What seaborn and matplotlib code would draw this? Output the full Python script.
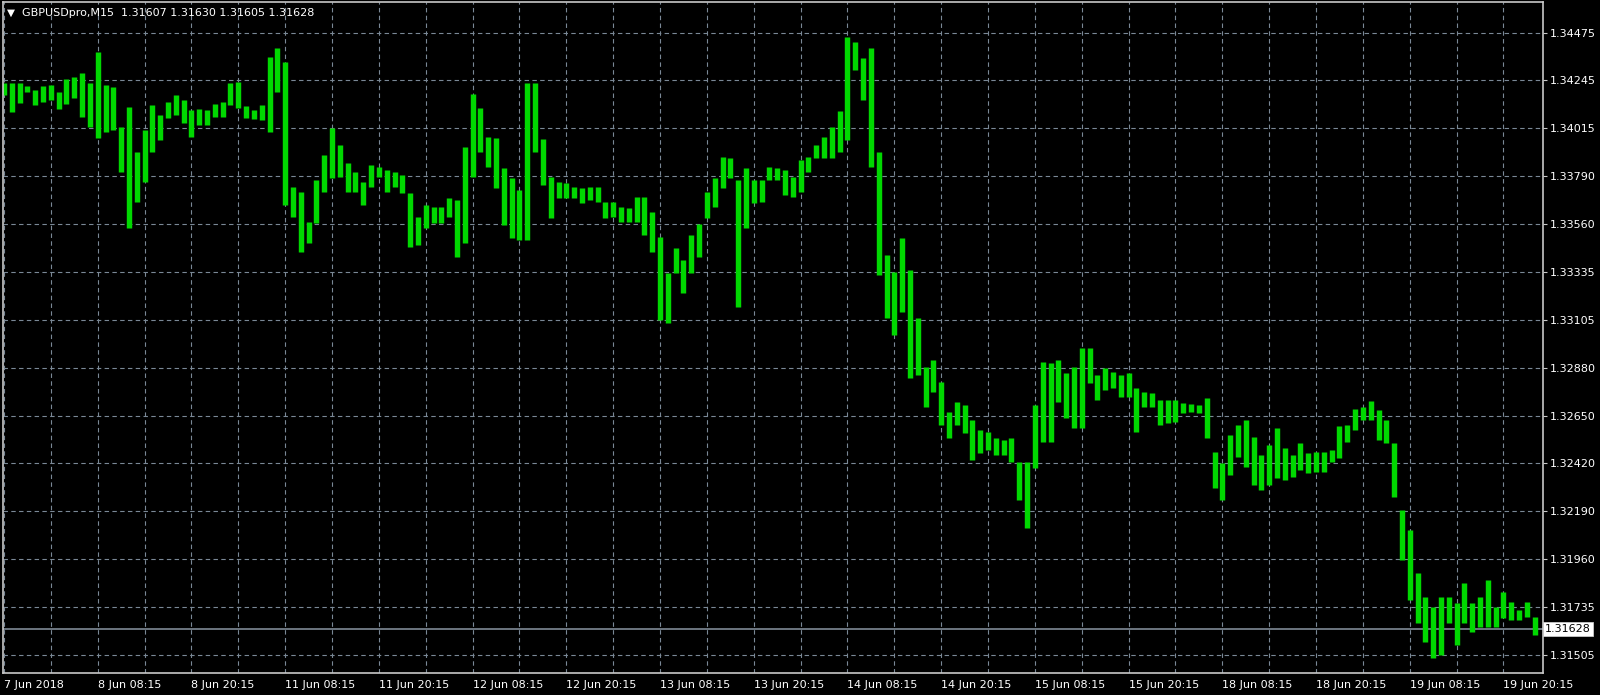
import matplotlib
matplotlib.use("Agg")
import matplotlib.pyplot as plt
import matplotlib.transforms as mtransforms
import seaborn as sns
import numpy as np
import pandas as pd

# DATA (hourly ranges, GBPUSD 7-19 Jun 2018)
high = [
    1.34235, 1.34235, 1.34235, 1.34221, 1.34201, 1.34221, 1.34225, 1.34192, 1.34254, 1.34263,
    1.34283, 1.34235, 1.34383, 1.34225, 1.34216, 1.34025, 1.34120, 1.33905, 1.34011, 1.34130,
    1.34082, 1.34144, 1.34178, 1.34154, 1.34106, 1.34111, 1.34106, 1.34135, 1.34144, 1.34235,
    1.34240, 1.34125, 1.34106, 1.34130, 1.34359, 1.34402, 1.34335, 1.33738, 1.33715, 1.33571,
    1.33772, 1.33891, 1.34020, 1.33939, 1.33853, 1.33810, 1.33762, 1.33843, 1.33834, 1.33820,
    1.33810, 1.33796, 1.33710, 1.33595, 1.33653, 1.33643, 1.33643, 1.33686, 1.33676, 1.33929,
    1.34182, 1.34116, 1.33977, 1.33972, 1.33829, 1.33781, 1.33724, 1.34235, 1.34235, 1.33968,
    1.33786, 1.33762, 1.33757, 1.33738, 1.33734, 1.33738, 1.33738, 1.33667, 1.33667, 1.33643,
    1.33638, 1.33691, 1.33691, 1.33619, 1.33500, 1.33328, 1.33447, 1.33390, 1.33509, 1.33562,
    1.33715, 1.33781, 1.33882, 1.33877, 1.33772, 1.33829, 1.33772, 1.33772, 1.33834, 1.33829,
    1.33820, 1.33786, 1.33867, 1.33882, 1.33939, 1.33977, 1.34025, 1.34101, 1.34454, 1.34431,
    1.34354, 1.34402, 1.33905, 1.33414, 1.33333, 1.33495, 1.33342, 1.33113, 1.32879, 1.32913,
    1.32808, 1.32665, 1.32712, 1.32698, 1.32626, 1.32579, 1.32569, 1.32540, 1.32531, 1.32540,
    1.32426, 1.32426, 1.32698, 1.32903, 1.32898, 1.32913, 1.32851, 1.32879, 1.32970, 1.32970,
    1.32841, 1.32875, 1.32855, 1.32841, 1.32851, 1.32779, 1.32760, 1.32755, 1.32722, 1.32722,
    1.32722, 1.32708, 1.32703, 1.32698, 1.32731, 1.32474, 1.32421, 1.32555, 1.32603, 1.32626,
    1.32545, 1.32459, 1.32507, 1.32588, 1.32493, 1.32459, 1.32517, 1.32469, 1.32474, 1.32474,
    1.32483, 1.32598, 1.32603, 1.32679, 1.32688, 1.32717, 1.32674, 1.32626, 1.32517, 1.32197,
    1.32101, 1.31896, 1.31782, 1.31734, 1.31782, 1.31782, 1.31753, 1.31848, 1.31753, 1.31782,
    1.31863, 1.31734, 1.31805, 1.31758, 1.31720, 1.31758, 1.31686,
]
low = [
    1.34178, 1.34096, 1.34139, 1.34192, 1.34130, 1.34144, 1.34154, 1.34111, 1.34135, 1.34163,
    1.34073, 1.34025, 1.33972, 1.34001, 1.34011, 1.33810, 1.33543, 1.33667, 1.33762, 1.33905,
    1.33963, 1.34068, 1.34082, 1.34044, 1.33977, 1.34034, 1.34034, 1.34073, 1.34073, 1.34130,
    1.34116, 1.34068, 1.34063, 1.34058, 1.34001, 1.34192, 1.33653, 1.33595, 1.33428, 1.33471,
    1.33567, 1.33715, 1.33781, 1.33786, 1.33715, 1.33715, 1.33653, 1.33738, 1.33786, 1.33715,
    1.33738, 1.33710, 1.33452, 1.33462, 1.33543, 1.33567, 1.33567, 1.33595, 1.33404, 1.33471,
    1.33786, 1.33905, 1.33834, 1.33734, 1.33557, 1.33495, 1.33485, 1.33485, 1.33905, 1.33748,
    1.33591, 1.33686, 1.33686, 1.33686, 1.33662, 1.33676, 1.33667, 1.33591, 1.33595, 1.33571,
    1.33571, 1.33571, 1.33509, 1.33428, 1.33104, 1.33089, 1.33328, 1.33232, 1.33328, 1.33404,
    1.33591, 1.33643, 1.33734, 1.33781, 1.33166, 1.33543, 1.33662, 1.33667, 1.33772, 1.33772,
    1.33700, 1.33691, 1.33715, 1.33810, 1.33877, 1.33877, 1.33877, 1.33905, 1.33963, 1.34297,
    1.34154, 1.33834, 1.33318, 1.33113, 1.33032, 1.33142, 1.32827, 1.32841, 1.32688, 1.32760,
    1.32603, 1.32540, 1.32603, 1.32564, 1.32435, 1.32469, 1.32483, 1.32459, 1.32459, 1.32426,
    1.32245, 1.32111, 1.32397, 1.32521, 1.32521, 1.32712, 1.32636, 1.32588, 1.32588, 1.32803,
    1.32722, 1.32770, 1.32779, 1.32736, 1.32736, 1.32569, 1.32688, 1.32688, 1.32603, 1.32612,
    1.32617, 1.32660, 1.32665, 1.32660, 1.32540, 1.32302, 1.32245, 1.32364, 1.32450, 1.32402,
    1.32316, 1.32292, 1.32316, 1.32350, 1.32340, 1.32354, 1.32388, 1.32373, 1.32378, 1.32378,
    1.32426, 1.32445, 1.32521, 1.32579, 1.32626, 1.32626, 1.32531, 1.32517, 1.32259, 1.31958,
    1.31767, 1.31657, 1.31567, 1.31490, 1.31505, 1.31657, 1.31552, 1.31657, 1.31615, 1.31638,
    1.31638, 1.31638, 1.31681, 1.31672, 1.31672, 1.31686, 1.31600,
]

x_labels = ["7 Jun 2018", "8 Jun 08:15", "8 Jun 20:15", "11 Jun 08:15", "11 Jun 20:15",
            "12 Jun 08:15", "12 Jun 20:15", "13 Jun 08:15", "13 Jun 20:15", "14 Jun 08:15",
            "14 Jun 20:15", "15 Jun 08:15", "15 Jun 20:15", "18 Jun 08:15", "18 Jun 20:15",
            "19 Jun 08:15", "19 Jun 20:15"]
y_labels = ["1.34475", "1.34245", "1.34015", "1.33790", "1.33560", "1.33335", "1.33105",
            "1.32880", "1.32650", "1.32420", "1.32190", "1.31960", "1.31735", "1.31505"]
last_price = 1.31628
title = "GBPUSDpro,M15  1.31607 1.31630 1.31605 1.31628"

# STYLE
BG = "#000000"
FG = "#ffffff"
GRID = "#7a8896"
BAR = "#00d800"
FRAME = "#c8c8c8"

sns.set_style("dark", rc={"axes.facecolor": BG, "figure.facecolor": BG})
plt.rcParams["font.family"] = ["DejaVu Sans"]
plt.rcParams["font.size"] = 8

W, H = 1600, 695
fig = plt.figure(figsize=(W / 100, H / 100), dpi=100)
ax = fig.add_axes([3 / W, 1 - 673 / H, 1540 / W, 671 / H])
ax.set_facecolor(BG)

# long table: one unit per bar, two points (low, high)
n = len(high)
bars = pd.DataFrame({
    "hour": np.concatenate([np.arange(n), np.arange(n)]),
    "price": np.concatenate([low, high]),
})
sns.lineplot(data=bars, x="hour", y="price", units="hour", estimator=None,
             sort=False, color=BAR, lw=3.9, solid_capstyle="butt", ax=ax, legend=False)

# axes limits
ax.set_xlim(-0.13, 197.06)
ax.set_ylim(1.31419, 1.34621)

# y axis on the right
yticks = np.linspace(1.34475, 1.31505, len(y_labels))
ax.yaxis.tick_right()
ax.set_yticks(yticks)
ax.set_yticklabels(y_labels)
ax.tick_params(axis="y", colors=FRAME, labelcolor=FG, length=3, width=0.8, pad=2,
               direction="out", labelsize=8)

# x axis labels every 12 hours, grid every 6 hours
xticks = np.arange(len(x_labels)) * 12
ax.set_xticks(xticks)
ax.set_xticklabels(x_labels, ha="left")
ax.set_xticks(xticks[:-1] + 6, minor=True)
ax.tick_params(axis="x", which="major", colors=FRAME, labelcolor=FG, length=3,
               width=0.8, pad=2, direction="out", labelsize=8)
ax.tick_params(axis="x", which="minor", length=0)
ax.set_xlabel("")
ax.set_ylabel("")

ax.grid(True, which="both", axis="x", color=GRID, lw=0.8, ls=(0, (4, 3)))
ax.grid(True, which="major", axis="y", color=GRID, lw=0.8, ls=(0, (4, 3)))
ax.set_axisbelow(True)

for s in ax.spines.values():
    s.set_visible(True)
    s.set_color(FRAME)
    s.set_linewidth(1.2)

# last price line and its label
ax.axhline(last_price, color="#8a96a2", lw=1.1, zorder=1)
trans = mtransforms.blended_transform_factory(ax.transAxes, ax.transData)
ax.text(1.0015, last_price, f"{last_price:.5f}", transform=trans, ha="left", va="center",
        color="#000000", fontsize=8,
        bbox=dict(boxstyle="square,pad=0.18", fc="#ffffff", ec="#c8c8c8", lw=0.6),
        clip_on=False)

# title in the top-left corner
fig.text(7 / W, 1 - 12.5 / H, "\u25bc", color=FG, fontsize=7.5, ha="left", va="center")
fig.text(22 / W, 1 - 12.5 / H, title, color=FG, fontsize=8, ha="left", va="center")

fig.savefig("out.png", dpi=100, facecolor=BG)
